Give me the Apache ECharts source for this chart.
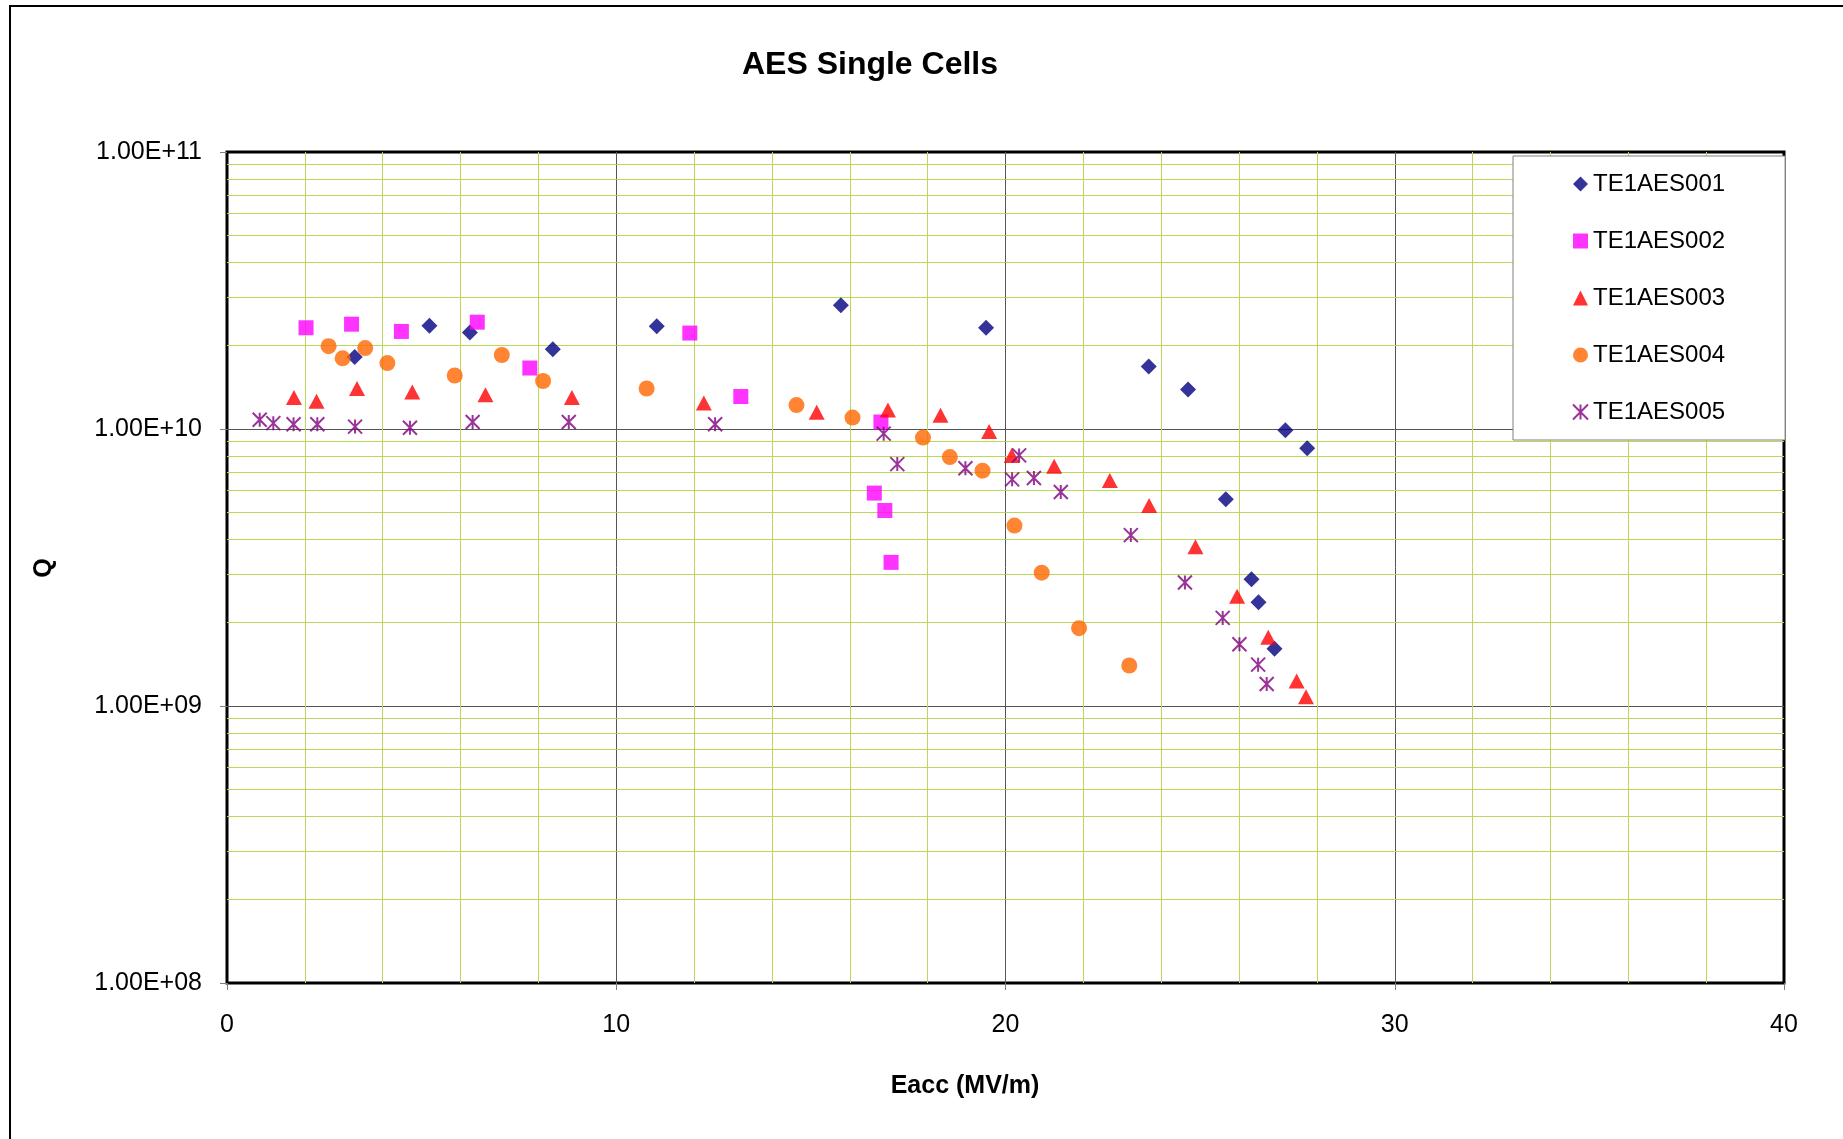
<!DOCTYPE html>
<html>
<head>
<meta charset="utf-8">
<title>AES Single Cells</title>
<script src="https://cdn.jsdelivr.net/npm/echarts@6/dist/echarts.min.js"></script>
<style>
  html, body { margin: 0; padding: 0; background: #fff; }
  #chart { width: 1843px; height: 1139px; }
</style>
</head>
<body>
<div id="chart"></div>
<script>
// Eacc (MV/m) and Q for each cell
const te1aes001 = [
  [3.28, 1.82e10], [5.20, 2.36e10], [6.24, 2.23e10], [8.37, 1.94e10],
  [11.04, 2.35e10], [15.77, 2.80e10], [19.50, 2.32e10], [23.68, 1.68e10],
  [24.69, 1.39e10], [25.66, 5.58e9], [26.32, 2.87e9], [26.50, 2.37e9],
  [26.91, 1.61e9], [27.19, 9.9e9], [27.75, 8.53e9]
]
const te1aes002 = [
  [2.03, 2.32e10], [3.20, 2.39e10], [4.48, 2.25e10], [6.43, 2.43e10],
  [7.78, 1.66e10], [11.89, 2.22e10], [13.20, 1.31e10], [16.80, 1.06e10],
  [16.63, 5.87e9], [16.90, 5.08e9], [17.06, 3.30e9]
]
const te1aes003 = [
  [1.72, 1.30e10], [2.30, 1.26e10], [3.34, 1.40e10], [4.76, 1.36e10],
  [6.64, 1.33e10], [8.86, 1.30e10], [12.25, 1.24e10], [15.15, 1.15e10],
  [16.98, 1.17e10], [18.33, 1.12e10], [19.58, 9.8e9], [20.16, 8.03e9],
  [21.25, 7.33e9], [22.68, 6.52e9], [23.69, 5.29e9], [24.88, 3.76e9],
  [25.95, 2.49e9], [26.75, 1.77e9], [27.48, 1.23e9], [27.72, 1.08e9]
]
const te1aes004 = [
  [2.61, 1.99e10], [2.97, 1.80e10], [3.55, 1.96e10], [4.12, 1.73e10],
  [5.85, 1.56e10], [7.06, 1.85e10], [8.12, 1.49e10], [10.78, 1.40e10],
  [14.63, 1.22e10], [16.07, 1.10e10], [17.88, 9.31e9], [18.57, 7.92e9],
  [19.41, 7.07e9], [20.23, 4.48e9], [20.93, 3.03e9], [21.89, 1.91e9],
  [23.18, 1.40e9]
]
const te1aes005 = [
  [0.84, 1.08e10], [1.19, 1.05e10], [1.71, 1.04e10], [2.32, 1.04e10],
  [3.29, 1.02e10], [4.70, 1.01e10], [6.31, 1.06e10], [8.78, 1.06e10],
  [12.54, 1.04e10], [16.87, 9.62e9], [17.22, 7.47e9], [18.97, 7.22e9],
  [20.35, 8.03e9], [20.17, 6.58e9], [20.73, 6.65e9], [21.42, 5.92e9],
  [23.22, 4.14e9], [24.61, 2.79e9], [25.58, 2.08e9], [26.01, 1.67e9],
  [26.49, 1.41e9], [26.71, 1.20e9]
]
const seriesNames = ['TE1AES001', 'TE1AES002', 'TE1AES003', 'TE1AES004', 'TE1AES005']

// minor log gridlines (2..9 in each decade)
const decades = [1e8, 1e9, 1e10]
const minorMults = [2, 3, 4, 5, 6, 7, 8, 9]

const FONT = 'Liberation Sans, Arial, sans-serif'
const GREEN = '#bcd85a'
const MAJOR = '#555555'
const STAR = 'path://M0,0L10,10M10,0L0,10M5,0L5,10'

function sci (v) {
  const e = Math.round(Math.log10(v))
  const m = v / Math.pow(10, e)
  return m.toFixed(2) + 'E+' + String(e).padStart(2, '0')
}

const minorLines = []
decades.forEach(d => {
  minorMults.forEach(m => { minorLines.push({ yAxis: m * d }) })
})

const option = {
  animation: false,
  backgroundColor: '#fff',
  textStyle: { fontFamily: FONT },
  graphic: [
    {
      type: 'rect',
      shape: { x: 10, y: 6, width: 1900, height: 1200 },
      style: { fill: 'none', stroke: '#000', lineWidth: 2 },
      silent: true
    },
    {
      type: 'text', x: 870, y: 65,
      style: { text: 'AES Single Cells', font: 'bold 32px ' + FONT, fill: '#000', textAlign: 'center', textVerticalAlign: 'middle' }
    },
    {
      type: 'text', x: 965, y: 1086,
      style: { text: 'Eacc (MV/m)', font: 'bold 25px ' + FONT, fill: '#000', textAlign: 'center', textVerticalAlign: 'middle' }
    },
    {
      type: 'text', x: 44, y: 568, rotation: Math.PI / 2,
      style: { text: 'Q', font: 'bold 25px ' + FONT, fill: '#000', textAlign: 'center', textVerticalAlign: 'middle' }
    }
  ],
  grid: {
    left: 227,
    top: 152,
    right: 59,
    bottom: 156,
    show: true,
    borderColor: '#000',
    borderWidth: 3,
    backgroundColor: '#fff',
    outerBoundsMode: 'none'
  },
  legend: {
    data: seriesNames,
    orient: 'vertical',
    left: 1513,
    top: 156,
    z: 10,
    padding: [16, 60, 16, 59],
    itemGap: 33,
    itemWidth: 15,
    itemHeight: 15,
    backgroundColor: '#fff',
    borderColor: '#808080',
    borderWidth: 1,
    textStyle: { fontSize: 24, color: '#000', fontFamily: FONT }
  },
  xAxis: {
    type: 'value',
    min: 0,
    max: 40,
    interval: 10,
    axisLine: { show: false },
    axisTick: { show: true, length: 7, lineStyle: { color: '#808080' } },
    axisLabel: { fontSize: 25, color: '#000', margin: 30 },
    splitLine: { show: true, showMinLine: false, showMaxLine: false, lineStyle: { color: MAJOR, width: 1 } },
    minorTick: { show: false, splitNumber: 5 },
    minorSplitLine: { show: true, lineStyle: { color: GREEN, width: 1 } }
  },
  yAxis: {
    type: 'log',
    logBase: 10,
    min: 1e8,
    max: 1e11,
    axisLine: { show: false },
    axisTick: { show: true, length: 7, lineStyle: { color: '#808080' } },
    axisLabel: { fontSize: 25, color: '#000', margin: 25, formatter: sci },
    splitLine: { show: true, showMinLine: false, showMaxLine: false, lineStyle: { color: MAJOR, width: 1 } }
  },
  series: [
    {
      name: 'minor',
      type: 'scatter',
      data: [],
      z: 1,
      silent: true,
      markLine: {
        z: 1,
        silent: true,
        symbol: ['none', 'none'],
        label: { show: false },
        lineStyle: { color: GREEN, type: 'solid', width: 1 },
        emphasis: { disabled: true },
        data: minorLines
      }
    },
    {
      name: 'TE1AES001',
      type: 'scatter',
      z: 3,
      symbol: 'diamond',
      symbolSize: 16,
      itemStyle: { color: '#000080' },
      data: te1aes001
    },
    {
      name: 'TE1AES002',
      type: 'scatter',
      z: 3,
      symbol: 'rect',
      symbolSize: 15,
      itemStyle: { color: '#ff00ff' },
      data: te1aes002
    },
    {
      name: 'TE1AES003',
      type: 'scatter',
      z: 3,
      symbol: 'triangle',
      symbolSize: [16, 15],
      itemStyle: { color: '#ff0000' },
      data: te1aes003
    },
    {
      name: 'TE1AES004',
      type: 'scatter',
      z: 3,
      symbol: 'circle',
      symbolSize: 16,
      itemStyle: { color: '#ff6600' },
      data: te1aes004
    },
    {
      name: 'TE1AES005',
      type: 'scatter',
      z: 3,
      symbol: STAR,
      symbolSize: 14,
      itemStyle: { color: 'transparent', borderColor: '#800080', borderWidth: 2 },
      data: te1aes005
    }
  ]
}

const chart = echarts.init(document.getElementById('chart'))
chart.setOption(option)
window.addEventListener('resize', () => chart.resize())
</script>
</body>
</html>
